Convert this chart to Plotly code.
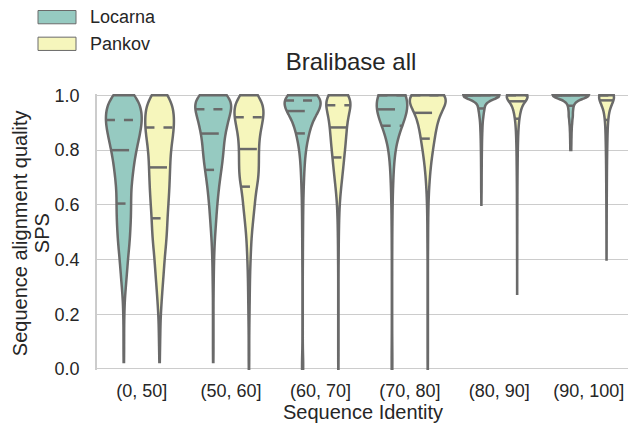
import numpy as np
import plotly.graph_objects as go

# ---------------------------------------------------------------------------
# Data: sum-of-pairs scores (SPS) per sequence-identity bin for two aligners.
# Scores are binned in steps of 0.025; each list gives the alignment count per bin.
# The last bin holds alignments with a perfect score of exactly 1.0.
# ---------------------------------------------------------------------------
CATEGORIES = ["(0, 50]", "(50, 60]", "(60, 70]", "(70, 80]", "(80, 90]", "(90, 100]"]
TOOLS = ["Locarna", "Pankov"]

SPS_BINS = np.array([
    0.000, 0.025, 0.050, 0.075, 0.100, 0.125, 0.150, 0.175, 0.200, 0.225,
    0.250, 0.275, 0.300, 0.325, 0.350, 0.375, 0.400, 0.425, 0.450, 0.475,
    0.500, 0.525, 0.550, 0.575, 0.600, 0.625, 0.650, 0.675, 0.700, 0.725,
    0.750, 0.775, 0.800, 0.825, 0.850, 0.875, 0.900, 0.925, 0.950, 0.975,
    1.000,
])

locarna_0_50 = [0, 1, 1, 1, 1, 1, 1, 1, 2, 2, 3, 4, 7, 8, 10, 12, 13, 15, 18, 20, 20,
                22, 23, 23, 24, 23, 23, 25, 28, 30, 33, 36, 40, 46, 50, 54, 61, 60, 57, 52, 50]
pankov_0_50 = [0, 1, 1, 1, 2, 2, 2, 3, 3, 5, 6, 7, 9, 10, 12, 13, 14, 16, 18, 20, 21,
               22, 22, 24, 25, 26, 28, 28, 29, 30, 30, 31, 32, 35, 38, 41, 42, 42, 40, 37, 30]
locarna_50_60 = [0, 1, 1, 1, 1, 1, 1, 1, 1, 1, 1, 1, 2, 2, 2, 3, 3, 4, 5, 6, 8,
                 10, 12, 13, 15, 18, 20, 23, 26, 31, 34, 37, 40, 40, 42, 50, 55, 58, 74, 75, 88]
pankov_50_60 = [1, 1, 1, 1, 1, 1, 1, 2, 2, 2, 3, 3, 3, 4, 4, 5, 6, 7, 8, 9, 11,
                14, 16, 19, 22, 24, 24, 33, 37, 37, 37, 37, 37, 37, 39, 44, 50, 57, 60, 55, 45]
locarna_60_70 = [8, 4, 2, 1, 1, 1, 1, 1, 1, 1, 1, 1, 1, 1, 1, 1, 2, 2, 2, 2, 3,
                 3, 3, 4, 4, 5, 6, 8, 9, 11, 13, 16, 20, 28, 35, 48, 57, 70, 114, 150, 161]
pankov_60_70 = [1, 1, 1, 1, 1, 1, 1, 1, 1, 1, 1, 1, 1, 1, 1, 1, 2, 2, 2, 3, 3,
                4, 5, 6, 8, 10, 15, 19, 24, 28, 33, 36, 40, 46, 48, 50, 55, 60, 66, 95, 105]
locarna_70_80 = [6, 3, 2, 1, 1, 1, 1, 1, 1, 1, 1, 1, 1, 1, 1, 1, 1, 1, 1, 2, 2,
                 2, 2, 3, 3, 4, 5, 6, 8, 9, 11, 14, 18, 19, 24, 40, 75, 85, 100, 100, 250]
pankov_70_80 = [1, 1, 1, 1, 1, 1, 1, 1, 1, 1, 1, 1, 1, 1, 1, 1, 1, 1, 2, 2, 2,
                2, 3, 3, 4, 5, 7, 9, 12, 15, 19, 24, 30, 36, 42, 48, 55, 66, 80, 102, 215]
locarna_80_90 = [0, 0, 0, 0, 0, 0, 0, 0, 0, 0, 0, 0, 0, 0, 0, 0, 0, 0, 0, 0, 0,
                 0, 0, 0, 1, 2, 4, 5, 5, 6, 7, 8, 10, 12, 15, 20, 25, 40, 60, 80, 480]
pankov_80_90 = [0, 0, 0, 0, 0, 0, 0, 0, 0, 0, 0, 1, 1, 1, 1, 1, 2, 2, 2, 2, 3,
                3, 3, 4, 4, 5, 5, 6, 7, 8, 10, 11, 13, 16, 20, 25, 35, 50, 80, 110, 350]
locarna_90_100 = [0, 0, 0, 0, 0, 0, 0, 0, 0, 0, 0, 0, 0, 0, 0, 0, 0, 0, 0, 0, 0,
                  0, 0, 0, 0, 0, 0, 0, 0, 0, 0, 0, 12, 14, 17, 22, 33, 50, 55, 95, 510]
pankov_90_100 = [0, 0, 0, 0, 0, 0, 0, 0, 0, 0, 0, 0, 0, 0, 0, 0, 1, 2, 2, 2, 3,
                 3, 4, 4, 5, 6, 7, 8, 9, 10, 12, 14, 17, 20, 24, 28, 35, 50, 75, 110, 400]

# Kernel bandwidth used for each violin's density estimate
locarna_bandwidth = [0.035, 0.035, 0.035, 0.06, 0.014, 0.012]
pankov_bandwidth = [0.035, 0.035, 0.035, 0.035, 0.02, 0.026]

LOCARNA = [locarna_0_50, locarna_50_60, locarna_60_70, locarna_70_80, locarna_80_90, locarna_90_100]
PANKOV = [pankov_0_50, pankov_50_60, pankov_60_70, pankov_70_80, pankov_80_90, pankov_90_100]

# ---------------------------------------------------------------------------
# Style
# ---------------------------------------------------------------------------
FONT = "Liberation Sans, Arial, Helvetica, sans-serif"
TEXT = "#262626"
GRAY = "#6a6a6a"
GRID = "#cccccc"
COLORS = {"Locarna": "#96cac1", "Pankov": "#f6f6bc"}
STEP = 0.025
DODGE = 0.2        # hue offset from the category centre
HALF_WIDTH = 0.2   # half of the widest violin in a category
LINE_W = 2.5

W, H = 628, 429
PLOT_L, PLOT_R = 97, 628
Y_RANGE = [-0.004, 1.005]
PX_PER_UNIT = 274.0
PLOT_B = 369 - Y_RANGE[0] * PX_PER_UNIT
PLOT_T = 369 - Y_RANGE[1] * PX_PER_UNIT


def px_x(px):
    return (px - PLOT_L) / (PLOT_R - PLOT_L)


def px_y(py):
    return (PLOT_B - py) / (PLOT_B - PLOT_T)


def samples(counts):
    return np.repeat(SPS_BINS, counts)


def kde(vals, bw, x):
    z = (np.atleast_1d(x)[:, None] - vals[None, :]) / bw
    return np.exp(-0.5 * z * z).sum(axis=1) / (np.sqrt(2 * np.pi) * len(vals) * bw)


def kde_peak(vals, bw):
    # same evaluation grid plotly.js uses for a hard-span violin
    lo, hi = vals.min(), vals.max()
    n = int(np.ceil((hi - lo) / (bw / 3)))
    t = lo + (hi - lo) / n * np.arange(n + 1)
    return kde(vals, bw, t).max()


def quartiles(counts):
    # bins are intervals of width STEP, except the top one which is exactly 1.0
    c = np.asarray(counts, float)
    nz = np.flatnonzero(c)
    c = c[nz[0]:nz[-1] + 1]
    g = SPS_BINS[nz[0]:nz[-1] + 1]
    lower = np.maximum(g - STEP / 2, g[0])
    upper = np.minimum(g + STEP / 2, g[-1])
    if g[-1] >= 1.0:
        lower[-1] = 1.0
    cum = np.cumsum(c) / c.sum()
    out = []
    for p in (0.25, 0.5, 0.75):
        i = int(np.searchsorted(cum, p))
        prev = cum[i - 1] if i > 0 else 0.0
        frac = (p - prev) / (cum[i] - prev)
        out.append(lower[i] + frac * (upper[i] - lower[i]))
    return out


fig = go.Figure()
quartile_lines = []

for ci, cat in enumerate(CATEGORIES):
    group = []
    for ti, (tool, table, bws) in enumerate(zip(TOOLS, [LOCARNA, PANKOV],
                                                [locarna_bandwidth, pankov_bandwidth])):
        vals = samples(table[ci])
        pos = ci + (-DODGE if ti == 0 else DODGE)
        group.append((tool, vals, bws[ci], pos, table[ci]))

    peak = max(kde_peak(v, bw) for _, v, bw, _, _ in group)

    for tool, vals, bw, pos, counts in group:
        fig.add_trace(go.Violin(
            x=np.full(len(vals), pos), y=vals, name=tool, legendgroup=tool,
            showlegend=False, scalegroup=cat, scalemode="width", spanmode="hard",
            bandwidth=bw, points=False, fillcolor=COLORS[tool], opacity=1,
            line=dict(color=GRAY, width=LINE_W), hoverinfo="skip",
        ))
        for k, q in enumerate(quartiles(counts)):
            hw = HALF_WIDTH * kde(vals, bw, q)[0] / peak
            quartile_lines.append((pos, hw, q, "18px,18px" if k == 1 else "9px,9px"))

for pos, hw, q, dash in quartile_lines:
    fig.add_trace(go.Scatter(
        x=[pos - hw, pos + hw], y=[q, q], mode="lines", showlegend=False,
        line=dict(color=GRAY, width=LINE_W, dash=dash), hoverinfo="skip",
    ))

# legend patches and labels
shapes = []
annotations = []
for i, tool in enumerate(TOOLS):
    top = 10 + 26.7 * i
    shapes.append(dict(type="rect", xref="paper", yref="paper",
                       x0=px_x(38), x1=px_x(76), y0=px_y(top + 13.3), y1=px_y(top),
                       fillcolor=COLORS[tool], line=dict(color=GRAY, width=1)))
    annotations.append(dict(text=tool, xref="paper", yref="paper", x=px_x(88), y=px_y(top + 6.7),
                            xanchor="left", yanchor="middle", showarrow=False,
                            font=dict(size=18, color=TEXT, family=FONT)))

# axis titles (y title is two lines, set slightly tighter than the default line height)
for text, xpx in (("Sequence alignment quality", 20), ("SPS", 42)):
    annotations.append(dict(text=text, xref="paper", yref="paper",
                            x=px_x(xpx), y=px_y(233), textangle=-90, xanchor="center",
                            yanchor="middle", showarrow=False,
                            font=dict(size=20, color=TEXT, family=FONT)))
annotations.append(dict(text="Sequence Identity", xref="paper", yref="paper",
                        x=px_x(363), y=px_y(412), xanchor="center", yanchor="middle",
                        showarrow=False, font=dict(size=20, color=TEXT, family=FONT)))

fig.update_layout(
    width=W, height=H,
    margin=dict(l=PLOT_L, r=W - PLOT_R, t=PLOT_T, b=H - PLOT_B, pad=0),
    paper_bgcolor="white", plot_bgcolor="white",
    font=dict(family=FONT, size=18, color=TEXT),
    violinmode="overlay", violingap=0, violingroupgap=0,
    showlegend=False,
    title=dict(text="Bralibase all", x=351 / W, y=(H - 62) / H, xref="container",
               yref="container", xanchor="center", yanchor="middle",
               font=dict(size=24, color=TEXT, family=FONT)),
    shapes=shapes, annotations=annotations,
)
fig.update_xaxes(range=[-0.5, 5.44], tickvals=list(range(len(CATEGORIES))), ticktext=CATEGORIES,
                 showgrid=False, zeroline=False, showline=False, ticks="",
                 ticklabelstandoff=8, tickfont=dict(size=18, color=TEXT, family=FONT))
fig.update_yaxes(range=Y_RANGE, tickvals=[0, 0.2, 0.4, 0.6, 0.8, 1.0],
                 ticktext=["0.0", "0.2", "0.4", "0.6", "0.8", "1.0"],
                 showgrid=True, gridcolor=GRID, gridwidth=1.3, zeroline=False,
                 showline=True, linecolor=GRID, linewidth=1.5, ticks="",
                 ticklabelstandoff=12, tickfont=dict(size=18, color=TEXT, family=FONT))

fig.write_html("out.html")
